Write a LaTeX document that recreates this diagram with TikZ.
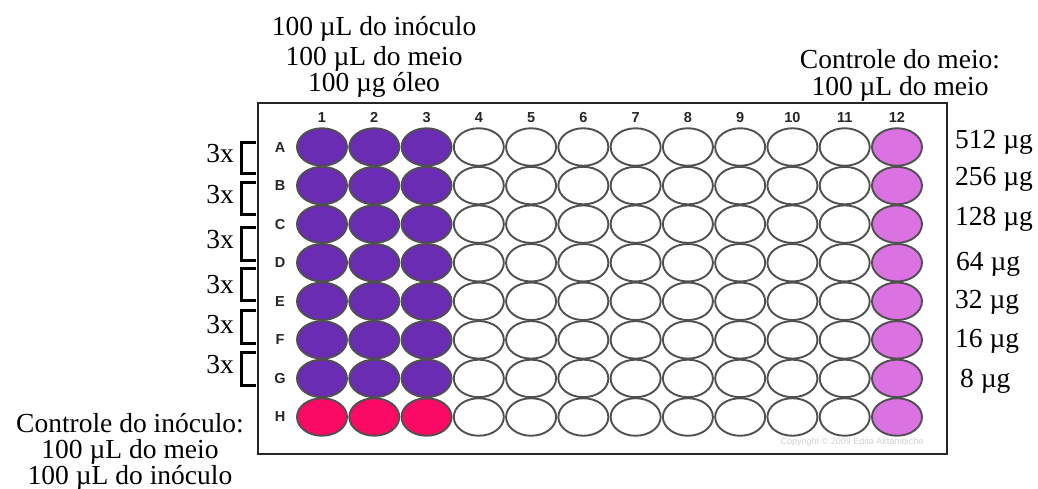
\documentclass[tikz,border=0pt]{standalone}
\usepackage{fontspec}
\setmainfont{Liberation Serif}
\newfontfamily\platefont{Liberation Sans}
\usetikzlibrary{shapes.geometric}
\definecolor{wellpurple}{RGB}{106,44,178}
\definecolor{wellred}{RGB}{250,10,100}
\definecolor{wellviolet}{RGB}{218,114,226}
\definecolor{rimgray}{RGB}{80,80,80}
\begin{document}
\begin{tikzpicture}[x=1pt,y=-1pt,
  lbl/.style={font=\fontsize{27.5}{30}\selectfont, inner sep=0, anchor=base},
  lblw/.style={lbl, anchor=base west},
  lble/.style={lbl, anchor=base east},
  well/.style={ellipse, draw=rimgray, line width=1.9pt, minimum width=50pt, minimum height=37.5pt, inner sep=0},
  idx/.style={font=\platefont\bfseries\fontsize{14.5}{14.5}\selectfont, text=black!85, inner sep=0, anchor=base},
  brk/.style={line width=3pt, black, line join=miter}]
\useasboundingbox (0,0) rectangle (1038,488);
% plate
\node[draw=black!85, line width=1.6pt, minimum width=689pt, minimum height=351pt, anchor=north west, inner sep=0] (plate) at (257,102) {};
% wells
\foreach \r [count=\i from 0] in {A,B,C,D,E,F,G,H}{
  \node[idx] (row\r) at (280,{152+\i*38.57}) {\r};
  \foreach \c in {1,...,12}{
    \ifnum\c<4 \ifnum\i<7 \def\fc{wellpurple}\else\def\fc{wellred}\fi
    \else\ifnum\c=12 \def\fc{wellviolet}\else\def\fc{white}\fi\fi
    \node[well, fill=\fc] (w\r\c) at ({322+(\c-1)*52.27},{147+\i*38.57}) {};
  }
}
\foreach \c in {1,...,12}{
  \node[idx] (col\c) at ({322+(\c-1)*52.27},122) {\c};
}
\node[font=\platefont\fontsize{9}{9}\selectfont, text=black!18, inner sep=0] (copy) at (852,442) {Copyright © 2009 Edita Aktambiche};
% brackets and 3x labels
\foreach \t/\b/\base [count=\k] in {142/173/162, 182/214/203, 227/260/248, 268/300/293, 310/343/333, 352/385/373}{
  \coordinate (bt\k) at (256,\t);
  \coordinate (bb\k) at (256,\b);
  \draw[brk] (bt\k) -- ++(-15,0) |- (bb\k);
  \node[lble] (x\k) at (234,\base) {3x};
}
% top-left
\node[lbl] (tl1) at (374,35) {100 µL do inóculo};
\node[lbl] (tl2) at (374,65) {100 µL do meio};
\node[lbl] (tl3) at (374,91) {100 µg óleo};
% top-right
\node[lbl] (tr1) at (900,68) {Controle do meio:};
\node[lbl] (tr2) at (900,95) {100 µL do meio};
% bottom-left
\node[lbl] (bl1) at (130,432) {Controle do inóculo:};
\node[lbl] (bl2) at (130,458) {100 µL do meio};
\node[lbl] (bl3) at (130,484) {100 µL do inóculo};
% concentrations
\node[lblw] (c1) at (955,148) {512 µg};
\node[lblw] (c2) at (955,185) {256 µg};
\node[lblw] (c3) at (955,225) {128 µg};
\node[lblw] (c4) at (956,270) {64 µg};
\node[lblw] (c5) at (955,308) {32 µg};
\node[lblw] (c6) at (955,347) {16 µg};
\node[lblw] (c7) at (960,387) {8 µg};
\end{tikzpicture}
\end{document}
